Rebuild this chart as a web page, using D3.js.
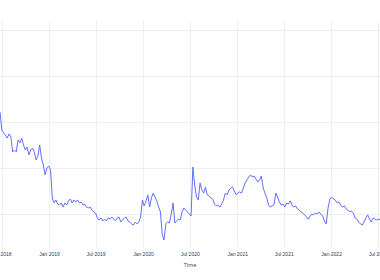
<!DOCTYPE html>
<html>
<head>
<meta charset="utf-8">
<script src="https://cdn.jsdelivr.net/npm/d3@7"></script>
<style>
  body { margin: 0; background: #fff; }
  svg { display: block; }
</style>
</head>
<body>
<script>
// weekly closes, first week starting 2018-06-25
var startDate = new Date(2018, 5, 25);
var stepDays = 7;
var closes = [
  64.3, 56.5, 55.2, 54.3, 53.0, 54.8, 53.5, 47.0, 47.8, 47.0,
  52.2, 50.9, 53.0, 50.0, 47.8, 49.1, 45.7, 47.8, 48.7, 47.0,
  43.5, 45.2, 50.0, 44.3, 41.3, 37.0, 40.0, 40.9, 39.1, 27.0,
  24.8, 26.1, 24.3, 23.9, 24.8, 23.0, 24.8, 23.9, 25.7, 26.5,
  24.8, 26.1, 25.2, 26.1, 24.8, 25.2, 23.9, 24.3, 23.0, 22.6,
  23.0, 21.7, 20.9, 20.4, 18.3, 17.4, 18.3, 17.0, 17.8, 17.0,
  18.3, 17.8, 18.7, 17.8, 17.0, 18.3, 18.7, 16.5, 17.4, 18.3,
  18.7, 17.0, 16.5, 15.7, 15.2, 16.5, 15.7, 16.5, 18.7, 26.1,
  23.5, 25.7, 28.3, 23.0, 27.0, 29.1, 27.4, 25.7, 23.0, 20.9,
  10.9, 8.7, 15.7, 16.5, 16.1, 20.0, 24.8, 16.1, 17.0, 17.8,
  17.4, 20.9, 22.6, 21.7, 20.9, 20.0, 19.1, 40.4, 32.6, 27.4,
  26.1, 33.5, 30.4, 29.1, 31.7, 28.3, 27.8, 27.0, 26.5, 24.3,
  23.5, 23.9, 23.0, 24.3, 26.1, 29.1, 28.3, 30.4, 31.3, 31.7,
  30.0, 28.3, 29.1, 29.6, 29.1, 31.3, 33.5, 34.8, 36.1, 37.0,
  36.1, 36.5, 35.2, 33.9, 34.8, 36.5, 31.3, 29.1, 27.0, 23.9,
  23.0, 23.5, 23.9, 29.1, 27.4, 25.2, 23.9, 24.3, 23.0, 24.8,
  24.3, 25.7, 23.9, 23.0, 23.5, 22.2, 21.7, 20.9, 20.4, 19.6,
  18.7, 17.8, 19.1, 20.0, 19.6, 20.4, 20.0, 20.9, 20.0, 19.1,
  17.0, 15.7, 22.6, 26.5, 27.4, 26.5, 26.1, 24.8, 25.2, 23.9,
  23.0, 23.5, 22.2, 21.7, 20.9, 21.3, 20.4, 18.3, 17.8, 16.5,
  15.7, 15.2, 16.5, 18.3, 19.6, 17.8, 16.5, 18.3, 17.8, 17.4,
  17.8, 17.4
];
var yGridValues = [20, 40, 60, 80, 100];
var xTitle = "Time";

var width = 380, height = 280;
var plotTop = 21, plotBottom = 247;

var data = closes.map(function (v, i) {
  return { date: d3.timeDay.offset(startDate, i * stepDays), value: v };
});

var svg = d3.select("body").append("svg")
  .attr("width", width)
  .attr("height", height)
  .style("font-family", "'Open Sans', sans-serif");

var x = d3.scaleTime()
  .domain([new Date(2018, 5, 25), new Date(2022, 6, 11)])
  .range([0.05, 380.3]);

var y = d3.scaleLinear()
  .domain([5.65, 103.9])
  .range([plotBottom, plotTop]);

// horizontal grid
svg.append("g")
  .selectAll("line")
  .data(yGridValues)
  .enter()
  .append("line")
  .attr("x1", 0)
  .attr("x2", width)
  .attr("y1", function (d) { return Math.round(y(d)) + 0.5; })
  .attr("y2", function (d) { return Math.round(y(d)) + 0.5; })
  .attr("stroke", "#ebf0f8")
  .attr("stroke-width", 1);

// vertical grid + labels
var xTicks = x.ticks(d3.timeMonth.every(6));

svg.append("g")
  .selectAll("line")
  .data(xTicks)
  .enter()
  .append("line")
  .attr("x1", function (d) { return Math.round(x(d)) + 0.5; })
  .attr("x2", function (d) { return Math.round(x(d)) + 0.5; })
  .attr("y1", plotTop)
  .attr("y2", plotBottom)
  .attr("stroke", "#ebf0f8")
  .attr("stroke-width", 1);

var xAxis = d3.axisBottom(x)
  .tickValues(xTicks)
  .tickFormat(d3.timeFormat("%b %Y"))
  .tickSize(0)
  .tickPadding(5);

var gx = svg.append("g")
  .attr("transform", "translate(0," + plotBottom + ")")
  .call(xAxis);
gx.select(".domain").remove();
gx.selectAll("text")
  .attr("fill", "#2a3f5f")
  .style("font-size", "5px");

svg.append("text")
  .attr("x", 190)
  .attr("y", 266.5)
  .attr("text-anchor", "middle")
  .attr("fill", "#2a3f5f")
  .style("font-size", "5.5px")
  .text(xTitle);

var line = d3.line()
  .x(function (d) { return x(d.date); })
  .y(function (d) { return y(d.value); });

svg.append("path")
  .datum(data)
  .attr("d", line)
  .attr("fill", "none")
  .attr("stroke", "#636efa")
  .attr("stroke-width", 1)
  .attr("stroke-linejoin", "round");
</script>
</body>
</html>
